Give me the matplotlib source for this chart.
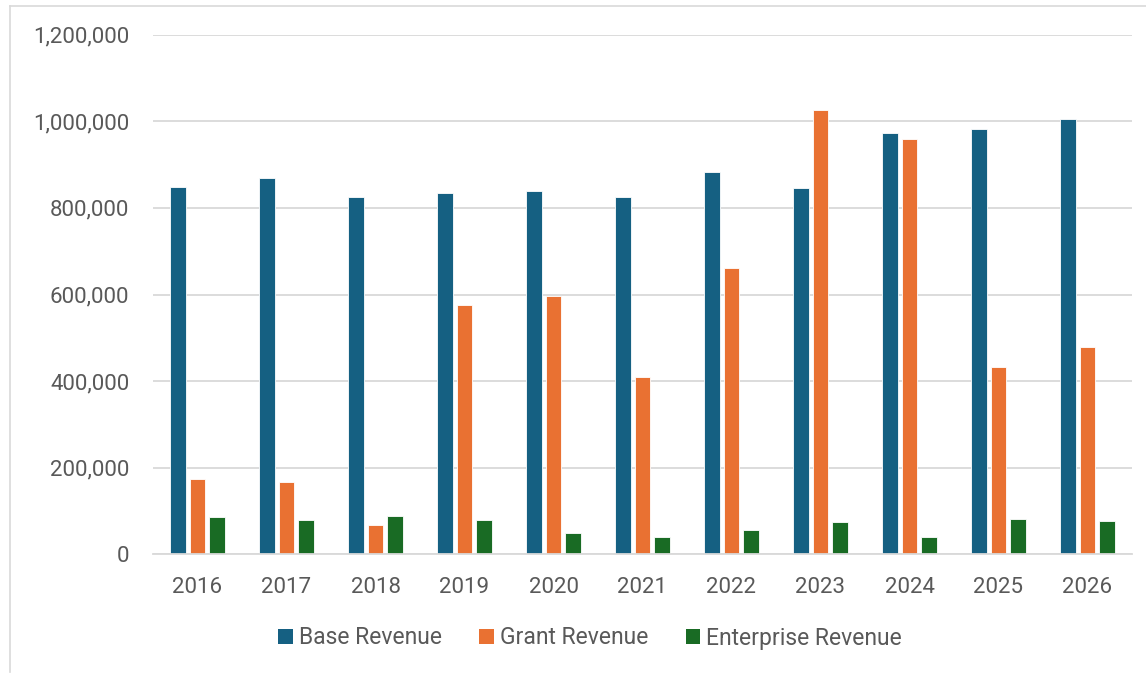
import matplotlib
matplotlib.use("Agg")
import matplotlib.pyplot as plt
import numpy as np
from matplotlib.patches import Patch
from matplotlib.ticker import FuncFormatter

years = ["2016", "2017", "2018", "2019", "2020", "2021", "2022", "2023", "2024", "2025", "2026"]
base_revenue = [848000, 868000, 826000, 834000, 839000, 826000, 882000, 847000, 972000, 983000, 1005000]
grant_revenue = [175000, 167000, 68000, 575000, 596000, 410000, 662000, 1025000, 958000, 433000, 478000]
enterprise_revenue = [86000, 79000, 88000, 79000, 49000, 39000, 57000, 75000, 41000, 81000, 78000]
series_names = ["Base Revenue", "Grant Revenue", "Enterprise Revenue"]
colors = ["#156082", "#E97132", "#196B24"]
yticks = [0, 200000, 400000, 600000, 800000, 1000000, 1200000]

plt.rcParams['font.family'] = ['Roboto', 'DejaVu Sans']
text_color = "#595959"
grid_color = "#d9d9d9"

fig = plt.figure(figsize=(11.46, 6.75), dpi=100)
ax = fig.add_axes([153/1146, 1 - 554.3/675, (1132 - 153)/1146, (554.3 - 34.7)/675])

x = np.arange(len(years))
w = 0.175
step = 0.219
for i, (vals, c) in enumerate(zip([base_revenue, grant_revenue, enterprise_revenue], colors)):
    ax.bar(x + (i - 1) * step, vals, width=w, color=c, edgecolor="white", linewidth=0.6, zorder=3)

ax.set_xlim(-0.5, len(years) - 0.5)
ax.set_ylim(0, 1200000)
ax.set_yticks(yticks)
ax.yaxis.set_major_formatter(FuncFormatter(lambda v, p: f"{int(v):,}"))
ax.set_xticks(x)
ax.set_xticklabels(years)
ax.grid(axis="y", color=grid_color, linewidth=1.3, zorder=0)
for s in ["top", "right", "left"]:
    ax.spines[s].set_visible(False)
ax.spines["bottom"].set_color(grid_color)
ax.spines["bottom"].set_linewidth(1.3)
ax.spines["bottom"].set_zorder(4)
ax.tick_params(axis="both", length=0, labelsize=16, labelcolor=text_color)
ax.tick_params(axis="y", pad=17)
ax.tick_params(axis="x", pad=16)

handles = [Patch(facecolor=c, edgecolor="none") for c in colors]
fig.legend(handles, series_names, loc="center", bbox_to_anchor=(590/1146, 1 - 638/675),
           ncol=3, frameon=False, fontsize=16.5, labelcolor=text_color,
           handlelength=0.62, handleheight=0.62, handletextpad=0.26, columnspacing=1.65,
           borderpad=0)

# outer chart border
fig.add_artist(plt.Line2D([10/1146, 10/1146], [1 - 672/675, 1 - 6/675], color=grid_color, linewidth=1.2, transform=fig.transFigure))
fig.add_artist(plt.Line2D([10/1146, 1.0], [1 - 6/675, 1 - 6/675], color=grid_color, linewidth=1.2, transform=fig.transFigure))

fig.savefig("out.png", dpi=100)
